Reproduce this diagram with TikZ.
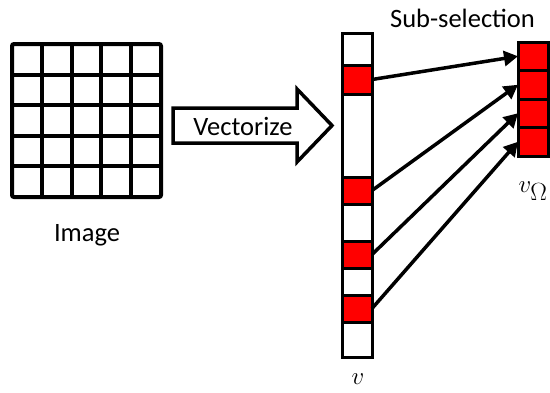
\documentclass[tikz,border=0pt]{standalone}
\usepackage{fontspec}
\setmainfont{Carlito}
\usetikzlibrary{arrows.meta}
\begin{document}
\begin{tikzpicture}[x=1pt,y=-1pt,
  lbl/.style={font=\fontsize{26.5}{30}\selectfont, inner sep=0, anchor=base},
  mlbl/.style={font=\fontsize{33}{36}\selectfont, inner sep=0, anchor=base},
  cell/.style={draw, line width=3pt, minimum width=30pt, inner sep=0, outer sep=0},
  wcell/.style={cell, fill=white},
  rcell/.style={cell, fill=red},
  sel/.style={line width=3.5pt, -{Triangle[length=14pt,width=15pt]}},
  gridline/.style={line width=4pt},
  bigarrow/.style={draw, line width=3.5pt, miter limit=10},
  ]
\useasboundingbox (0,0) rectangle (550,392);
% image grid
\node[draw, gridline, rounded corners=2pt, minimum width=149pt, minimum height=153pt, inner sep=0, outer sep=0] (img) at (86.5,120.5) {};
\foreach \i in {1,...,4} {
  \draw[gridline] ({12+\i*29.8},44) -- ({12+\i*29.8},197);
  \draw[gridline] (12,{44+\i*30.6}) -- (161,{44+\i*30.6});
}
\node[lbl] (imglbl) at (87,241) {Image};
% vectorize arrow
\draw[bigarrow] (173,108) -- (297,108) -- (297,89) -- (332,125.5) -- (297,162) -- (297,143) -- (173,143) -- cycle;
\node[lbl] (veclbl) at (243,135.5) {Vectorize};
% vector v
\node[wcell, minimum height=32pt] (w1) at (357,49) {};
\node[rcell, minimum height=29pt] (r1) at (357,79.5) {};
\node[wcell, minimum height=83pt] (w2) at (357,135.5) {};
\node[rcell, minimum height=27pt] (r2) at (357,190.5) {};
\node[wcell, minimum height=37pt] (w3) at (357,222.5) {};
\node[rcell, minimum height=27pt] (r3) at (357,254.5) {};
\node[wcell, minimum height=27pt] (w4) at (357,281.5) {};
\node[rcell, minimum height=27pt] (r4) at (357,308.5) {};
\node[wcell, minimum height=35pt] (w5) at (357,339.5) {};
\node[mlbl] (vlbl) at (358,384) {$v$};
% sub-selection
\node[rcell, minimum height=28.5pt] (s1) at (533,56.25) {};
\node[rcell, minimum height=28.5pt] (s2) at (533,84.75) {};
\node[rcell, minimum height=28.5pt] (s3) at (533,113.25) {};
\node[rcell, minimum height=28.5pt] (s4) at (533,141.75) {};
\node[lbl] (sublbl) at (462.5,27) {Sub-selection};
\node[mlbl] (vomlbl) at (533,192) {$v_\Omega$};
% arrows
\draw[sel] (r1.east) -- (s1.west);
\draw[sel] (r2.east) -- (s2.west);
\draw[sel] (r3.east) -- (s3.west);
\draw[sel] (r4.east) -- (s4.west);
\end{tikzpicture}
\end{document}
